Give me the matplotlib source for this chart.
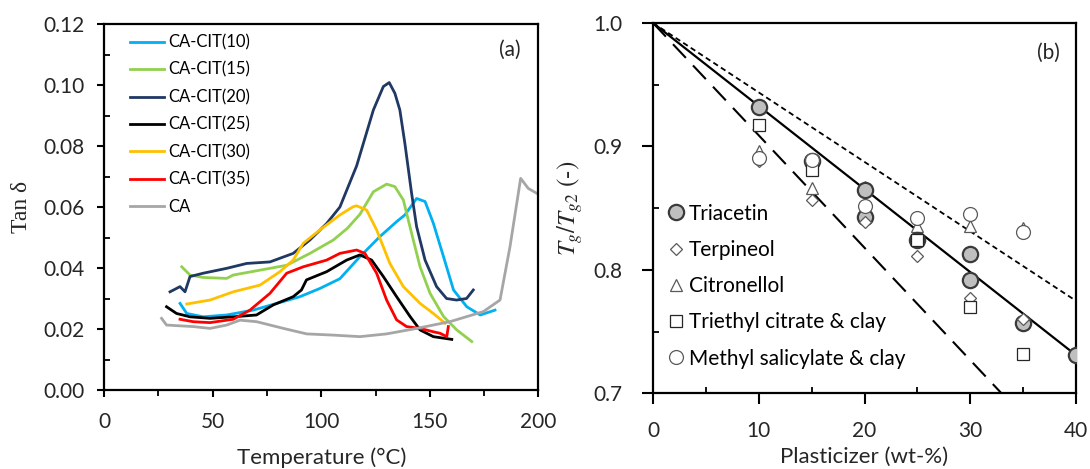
import matplotlib
matplotlib.use("Agg")
import matplotlib.pyplot as plt
from matplotlib.ticker import MultipleLocator, FormatStrFormatter

plt.rcParams["font.family"] = ["Lato", "DejaVu Sans"]
plt.rcParams["mathtext.fontset"] = "stix"

# ---- panel (a): tan delta vs temperature ----
cit10_t = [35.0, 38.1, 45.7, 56.5, 68.7, 79.5, 90.2, 99.4, 108.6, 117.8, 127.0, 134.7,
           138.5, 143.9, 147.8, 151.6, 156.3, 160.9, 167.0, 173.2, 180.0]
cit10_v = [0.0284, 0.0251, 0.0240, 0.0246, 0.0262, 0.0284, 0.0306, 0.0333, 0.0365, 0.0437,
           0.0503, 0.0552, 0.0574, 0.0628, 0.0618, 0.0547, 0.0437, 0.0328, 0.0273, 0.0246, 0.0262]

cit15_t = [35.8, 39.6, 45.7, 56.5, 59.5, 71.8, 84.1, 94.8, 105.6, 112.0, 117.8, 124.0, 130.1,
           133.9, 137.8, 141.6, 145.5, 150.1, 156.3, 162.4, 169.3]
cit15_v = [0.0404, 0.0377, 0.0369, 0.0366, 0.0377, 0.0393, 0.0409, 0.0448, 0.0492, 0.0530,
           0.0576, 0.0650, 0.0675, 0.0667, 0.0623, 0.0514, 0.0404, 0.0317, 0.0241, 0.0197, 0.0159]

cit20_t = [30.4, 35.0, 37.3, 39.6, 45.7, 56.5, 65.7, 76.4, 87.1, 94.8, 102.5, 108.6, 116.3,
           124.0, 128.6, 131.3, 133.9, 136.2, 138.5, 141.6, 143.9, 147.8, 153.1, 157.7,
           162.3, 166.9, 170.0]
cit20_v = [0.0322, 0.0339, 0.0322, 0.0372, 0.0383, 0.0399, 0.0415, 0.0420, 0.0448, 0.0492,
           0.0546, 0.0600, 0.0735, 0.0918, 0.0995, 0.1008, 0.0973, 0.0918, 0.0809, 0.0645,
           0.0536, 0.0426, 0.0339, 0.0300, 0.0295, 0.0300, 0.0328]

cit25_t = [28.8, 33.4, 39.6, 48.8, 59.5, 70.2, 77.9, 87.1, 90.9, 93.2, 102.5, 111.7, 117.8,
           123.2, 128.6, 134.7, 140.9, 145.5, 151.6, 160.1]
cit25_v = [0.0273, 0.0251, 0.0240, 0.0235, 0.0240, 0.0246, 0.0279, 0.0306, 0.0328, 0.0361,
           0.0388, 0.0426, 0.0443, 0.0426, 0.0372, 0.0306, 0.0241, 0.0197, 0.0175, 0.0166]

cit30_t = [38.1, 48.8, 59.5, 71.8, 81.0, 87.1, 91.7, 99.4, 108.6, 114.7, 116.3, 120.9, 125.5,
           131.6, 137.8, 145.5, 151.6, 157.0]
cit30_v = [0.0282, 0.0295, 0.0322, 0.0344, 0.0388, 0.0426, 0.0481, 0.0525, 0.0574, 0.0601,
           0.0604, 0.0590, 0.0525, 0.0415, 0.0339, 0.0284, 0.0251, 0.0219]

cit35_t = [35.0, 41.1, 48.8, 59.5, 67.2, 76.4, 84.1, 91.7, 102.5, 108.6, 116.3, 120.1, 125.5,
           130.1, 134.7, 139.3, 145.5, 151.6, 154.7, 157.8, 158.5]
cit35_v = [0.0232, 0.0224, 0.0221, 0.0232, 0.0262, 0.0317, 0.0383, 0.0404, 0.0426, 0.0448,
           0.0459, 0.0448, 0.0383, 0.0295, 0.0230, 0.0208, 0.0202, 0.0191, 0.0186, 0.0175, 0.0208]

ca_t = [26.5, 28.8, 41.1, 48.8, 56.5, 62.6, 70.3, 82.6, 93.3, 105.6, 117.8, 130.1, 143.9,
        159.2, 174.6, 182.3, 186.9, 191.8, 195.3, 199.2]
ca_v = [0.0235, 0.0213, 0.0208, 0.0202, 0.0213, 0.0229, 0.0224, 0.0202, 0.0184, 0.0180,
        0.0175, 0.0184, 0.0202, 0.0224, 0.0257, 0.0295, 0.0470, 0.0694, 0.0661, 0.0645]

series_a = [
    ("CA-CIT(10)", cit10_t, cit10_v, "#00b0f0"),
    ("CA-CIT(15)", cit15_t, cit15_v, "#92d050"),
    ("CA-CIT(20)", cit20_t, cit20_v, "#203864"),
    ("CA-CIT(25)", cit25_t, cit25_v, "#000000"),
    ("CA-CIT(30)", cit30_t, cit30_v, "#ffc000"),
    ("CA-CIT(35)", cit35_t, cit35_v, "#ff0000"),
    ("CA", ca_t, ca_v, "#a6a6a6"),
]

# ---- panel (b): Tg/Tg2 vs plasticizer ----
triacetin_x = [10, 15, 20, 20, 25, 30, 30, 35, 40]
triacetin_y = [0.932, 0.888, 0.865, 0.843, 0.824, 0.813, 0.792, 0.757, 0.731]
terpineol_x = [10, 15, 20, 25, 30, 35]
terpineol_y = [0.888, 0.857, 0.839, 0.811, 0.777, 0.760]
citronellol_x = [10, 15, 20, 25, 30, 35]
citronellol_y = [0.896, 0.866, 0.867, 0.836, 0.836, 0.834]
tec_clay_x = [10, 15, 25, 30, 35]
tec_clay_y = [0.917, 0.881, 0.824, 0.770, 0.732]
ms_clay_x = [10, 15, 20, 25, 30, 35]
ms_clay_y = [0.891, 0.889, 0.852, 0.842, 0.845, 0.831]

fit_x = [0, 40]
fit_y = [1.0, 0.731]
upper_x = [0, 40]
upper_y = [1.0, 0.775]
lower_x = [0, 40]
lower_y = [1.0, 0.636]

fig = plt.figure(figsize=(10.9, 4.69), dpi=100)
ax1 = fig.add_axes([0.0954, 0.1684, 0.3986, 0.7804])
ax2 = fig.add_axes([0.5991, 0.1610, 0.3881, 0.7900])

tick_color = "#262626"

for label, t, v, c in series_a:
    ax1.plot(t, v, color=c, lw=2.0, label=label)

ax1.set_xlim(0, 200)
ax1.set_ylim(0, 0.12)
ax1.xaxis.set_major_locator(MultipleLocator(50))
ax1.xaxis.set_minor_locator(MultipleLocator(25))
ax1.yaxis.set_major_locator(MultipleLocator(0.02))
ax1.yaxis.set_minor_locator(MultipleLocator(0.01))
ax1.yaxis.set_major_formatter(FormatStrFormatter("%.2f"))
ax1.set_xlabel("Temperature (°C)", fontsize=16, color=tick_color, labelpad=11)
ax1.set_ylabel("Tan δ", fontsize=17, family="Liberation Serif", color=tick_color,
               labelpad=8)
ax1.text(0.935, 0.93, "(a)", transform=ax1.transAxes, fontsize=15,
         ha="center", va="center", color="#262626")
ax1.legend(loc="upper left", bbox_to_anchor=(0.045, 0.99), frameon=False,
           fontsize=12, handlelength=2.0, handletextpad=0.3, labelspacing=0.68,
           borderaxespad=0)

ms_edge = "#595959"
ax2.plot(fit_x, fit_y, color="black", lw=1.6, zorder=2)
ax2.plot(upper_x, upper_y, color="black", lw=1.3, ls=(0, (3, 2)), zorder=2)
ax2.plot(lower_x, lower_y, color="black", lw=1.5, ls=(0, (9, 5)), zorder=2)
ax2.plot(citronellol_x, citronellol_y, "^", ms=8, mfc="white", mec=ms_edge, mew=0.9,
         ls="none", label="Citronellol", zorder=3)
ax2.plot(triacetin_x, triacetin_y, "o", ms=11, mfc="#bfbfbf", mec="#3a3a3a", mew=1.6,
         ls="none", label="Triacetin", zorder=4)
ax2.plot(terpineol_x, terpineol_y, "D", ms=6, mfc="white", mec=ms_edge, mew=0.9,
         ls="none", label="Terpineol", zorder=5)
ax2.plot(tec_clay_x, tec_clay_y, "s", ms=8, mfc="white", mec="#262626", mew=0.9,
         ls="none", label="Triethyl citrate & clay", zorder=5)
ax2.plot(ms_clay_x, ms_clay_y, "o", ms=10, mfc="white", mec=ms_edge, mew=0.9,
         ls="none", label="Methyl salicylate & clay", zorder=6)

ax2.set_xlim(0, 40)
ax2.set_ylim(0.7, 1.0)
ax2.xaxis.set_major_locator(MultipleLocator(10))
ax2.xaxis.set_minor_locator(MultipleLocator(5))
ax2.yaxis.set_major_locator(MultipleLocator(0.1))
ax2.yaxis.set_minor_locator(MultipleLocator(0.05))
ax2.yaxis.set_major_formatter(FormatStrFormatter("%.1f"))
ax2.set_xlabel("Plasticizer (wt-%)", fontsize=16, color=tick_color, labelpad=4)
ax2.set_ylabel(r"$T_g/T_{g2}$ (-)", fontsize=18, family="STIXGeneral",
               color=tick_color, labelpad=6)
ax2.text(0.935, 0.92, "(b)", transform=ax2.transAxes, fontsize=15,
         ha="center", va="center", color="#262626")

handles, labels = ax2.get_legend_handles_labels()
order = ["Triacetin", "Terpineol", "Citronellol", "Triethyl citrate & clay",
         "Methyl salicylate & clay"]
hmap = dict(zip(labels, handles))
ax2.legend([hmap[k] for k in order], order, loc="upper left",
           bbox_to_anchor=(0.02, 0.535), frameon=False, fontsize=15,
           handlelength=0.6, handletextpad=0.3, labelspacing=0.78, borderaxespad=0)

for ax in (ax1, ax2):
    for s in ax.spines.values():
        s.set_linewidth(1.6)
        s.set_color("black")
    ax.tick_params(which="major", direction="out", width=1.5,
                   labelsize=15, colors="black", labelcolor=tick_color)
    ax.tick_params(which="minor", direction="in", length=4, width=1.3, colors="black")

ax1.tick_params(which="major", length=5)
ax1.tick_params(axis="y", which="major", pad=9)
ax1.tick_params(axis="x", which="major", pad=11)
ax1.tick_params(axis="x", which="minor", direction="out", length=4)
ax2.tick_params(which="major", length=8)
ax2.tick_params(axis="y", which="major", pad=14)
ax2.tick_params(axis="x", which="major", pad=12)

fig.savefig("out.png", dpi=100)
